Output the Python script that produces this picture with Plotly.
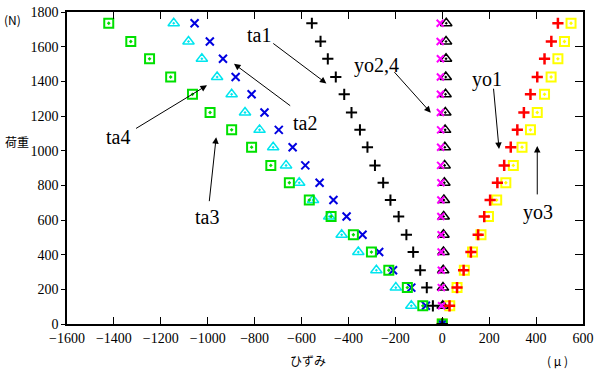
import plotly.graph_objects as go

# Loads (N)
load = [0, 105, 210, 310, 415, 515, 620, 715, 815, 915, 1020, 1120, 1220, 1325, 1425, 1530, 1630, 1735]

# Strains (micro)
ta1 = [0, -40, -66, -94, -124, -153, -186, -221, -252, -287, -319, -351, -387, -418, -454, -488, -519, -556]
ta2 = [0, -70, -132, -210, -269, -340, -408, -464, -523, -584, -638, -697, -758, -813, -881, -935, -991, -1056]
ta3 = [0, -132, -198, -281, -358, -429, -482, -551, -610, -666, -721, -779, -841, -898, -960, -1025, -1082, -1145]
ta4 = [0, -83, -149, -228, -302, -379, -474, -567, -652, -731, -813, -898, -990, -1065, -1158, -1248, -1328, -1422]
yo1 = [0, 31, 63, 91, 122, 153, 179, 204, 235, 264, 292, 320, 348, 376, 405, 436, 465, 493]
yo2 = [0, -3, -4, -4, -5, -5, -6, -6, -6, -7, -7, -7, -8, -8, -8, -8, -9, -9]
yo3 = [0, 32, 63, 94, 129, 165, 197, 232, 271, 303, 340, 376, 405, 436, 464, 493, 521, 549]
yo4 = [0, 2, 3, 4, 5, 5, 6, 7, 9, 10, 11, 12, 13, 14, 15, 16, 16, 17]

series = [
    ("yo3", yo3, "square-open-dot", "#ffff00", 9, 2),
    ("yo4", yo4, "triangle-up-open-dot", "#000000", 10, 1.5),
    ("yo1", yo1, "cross-thin", "#ff0000", 8, 2.5),
    ("yo2", yo2, "x-thin", "#ff00ff", 7, 2),
    ("ta3", ta3, "triangle-up-open-dot", "#00e5ee", 10, 1.5),
    ("ta2", ta2, "x-thin", "#0000e0", 8, 2),
    ("ta4", ta4, "square-open-dot", "#00e000", 9, 2),
    ("ta1", ta1, "cross-thin", "#000000", 8, 2),
]

x_ticks = list(range(-1600, 601, 200))
y_ticks = list(range(0, 1801, 200))

fig = go.Figure()
for name, xs, sym, col, sz, lw in series:
    fig.add_trace(go.Scatter(
        x=xs, y=load, mode="markers", name=name, showlegend=False,
        marker=dict(symbol=sym, size=sz, color=col, line=dict(color=col, width=lw)),
        hoverinfo="skip",
    ))

# empty trace to activate the right-side tick axis
fig.add_trace(go.Scatter(x=[None], y=[None], yaxis="y2", showlegend=False, hoverinfo="skip"))

serif = "Liberation Serif, Times New Roman, serif"
cjk = "Noto Sans CJK JP"

fig.update_layout(
    width=599, height=372,
    margin=dict(l=67, r=13, t=5, b=48),
    plot_bgcolor="white", paper_bgcolor="white",
    xaxis=dict(range=[-1600, 600], tickvals=x_ticks, ticks="inside", ticklen=7, tickwidth=1,
               tickcolor="black", showline=True, linecolor="black", linewidth=1.5, mirror="ticks",
               showgrid=False, zeroline=False, ticklabeloverflow="allow",
               tickfont=dict(family=serif, size=14, color="black")),
    yaxis=dict(range=[0, 1800], tickvals=y_ticks, ticks="outside", ticklen=4, tickwidth=1,
               tickcolor="black", showline=True, linecolor="black", linewidth=1.5, mirror=True,
               showgrid=False, zeroline=False, ticklabeloverflow="allow",
               tickfont=dict(family=serif, size=14, color="black")),
    yaxis2=dict(range=[0, 1800], tickvals=y_ticks, overlaying="y", side="right", ticks="inside",
                ticklen=8, tickcolor="black", showticklabels=False, showline=False,
                showgrid=False, zeroline=False),
)

# labels with arrows: (text, text_x, text_y, tail_x, tail_y, head_x, head_y)
labels = [
    ("ta1", -782, 1665, -727, 1625, -494, 1388),
    ("yo2,4", -282, 1490, -210, 1462, -49, 1219),
    ("yo1", 189, 1411, 218, 1366, 242, 1010),
    ("yo3", 409, 643, 405, 739, 405, 1027),
    ("ta2", -587, 1157, -642, 1253, -888, 1501),
    ("ta4", -1384, 1078, -1312, 1123, -1003, 1377),
    ("ta3", -1003, 615, -994, 700, -964, 1078),
]
for t, tx, ty, ax, ay, hx, hy in labels:
    fig.add_annotation(x=tx, y=ty, text=t, showarrow=False,
                       font=dict(family=serif, size=20, color="black"))
    fig.add_annotation(x=hx, y=hy, ax=ax, ay=ay, axref="x", ayref="y", text="",
                       showarrow=True, arrowhead=2, arrowsize=1.3, arrowwidth=1,
                       arrowcolor="black", standoff=0)

axis_texts = [
    ("荷重", -0.096, 0.586),
    ("(N)", -0.106, 0.975),
    ("ひずみ", 0.468, -0.116),
    ("( μ )", 0.950, -0.116),
]
for t, px, py in axis_texts:
    fig.add_annotation(xref="paper", yref="paper", x=px, y=py, text=t, showarrow=False,
                       xanchor="center", yanchor="middle",
                       font=dict(family=cjk, size=12, color="black"))

fig.write_html("out.html", config={"displayModeBar": False},
               post_script="document.body.style.margin='0';document.body.style.padding='0';")
